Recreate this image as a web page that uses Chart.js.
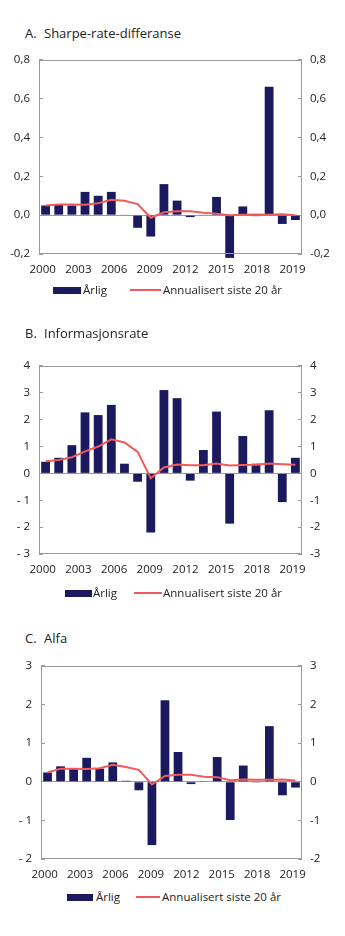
<!DOCTYPE html>
<html>
<head>
<meta charset="utf-8">
<script src="https://cdn.jsdelivr.net/npm/chart.js@4/dist/chart.umd.min.js"></script>
<style>
  body { margin: 0; background: #fff; font-family: "Open Sans", sans-serif; color: #222; }
  #page { position: relative; width: 345px; height: 936px; overflow: hidden; }
  .title { position: absolute; left: 25px; font-size: 13px; line-height: 18px; white-space: nowrap; }
  .title span { display: inline-block; width: 19px; }
  .wrap { position: absolute; left: 0; width: 345px; }
  .legend { position: absolute; left: 0; width: 345px; height: 16px; font-size: 11.5px; line-height: 16px; }
  .legend div { position: absolute; white-space: nowrap; }
  .swatch-bar { top: 5px; height: 7px; background: #1b1a5e; }
  .swatch-line { top: 7px; height: 2px; background: #f05a5a; }
</style>
</head>
<body>
<div id="page"></div>
<script>
// categories
const years = ['2000', '2001', '2002', '2003', '2004', '2005', '2006', '2007', '2008', '2009',
               '2010', '2011', '2012', '2013', '2014', '2015', '2016', '2017', '2018', '2019'];
const xTickLabels = ['2000', '2003', '2006', '2009', '2012', '2015', '2018', '2019'];

// A. Sharpe-rate-differanse
const sharpeAnnual = [0.05, 0.055, 0.05, 0.12, 0.10, 0.12, 0.003, -0.065, -0.11, 0.16,
                      0.075, -0.01, 0.002, 0.094, -0.22, 0.045, -0.005, 0.662, -0.045, -0.025];
const sharpe20 = [0.05, 0.055, 0.055, 0.054, 0.062, 0.079, 0.074, 0.057, -0.013, 0.015,
                  0.02, 0.02, 0.013, 0.008, 0.0, 0.002, 0.003, 0.002, 0.005, 0.0];

// B. Informasjonsrate
const infoAnnual = [0.43, 0.58, 1.05, 2.27, 2.17, 2.55, 0.36, -0.31, -2.2, 3.1,
                    2.8, -0.27, 0.87, 2.3, -1.87, 1.39, 0.36, 2.35, -1.07, 0.58];
const info20 = [0.45, 0.5, 0.6, 0.82, 1.0, 1.27, 1.15, 0.8, -0.18, 0.22,
                0.33, 0.3, 0.3, 0.37, 0.29, 0.31, 0.32, 0.37, 0.34, 0.32];

// C. Alfa
const alphaAnnual = [0.24, 0.40, 0.33, 0.62, 0.34, 0.50, 0.025, -0.22, -1.64, 2.11,
                     0.77, -0.06, 0.01, 0.64, -0.99, 0.42, -0.02, 1.44, -0.35, -0.15];
const alpha20 = [0.24, 0.34, 0.34, 0.33, 0.35, 0.44, 0.38, 0.31, -0.07, 0.15,
                 0.18, 0.18, 0.13, 0.12, 0.04, 0.06, 0.05, 0.05, 0.06, 0.03];

const seriesNames = ['Årlig', 'Annualisert siste 20 år'];

const NAVY = '#1b1a5e';
const RED = '#f05a5a';
const GREY = '#9a9a9a';
const FONT = { family: '"Open Sans", sans-serif', size: 11.5 };

const panels = [
  { letter: 'A.', title: 'Sharpe-rate-differanse', bars: sharpeAnnual, line: sharpe20,
    min: -0.2, max: 0.8, step: 0.2, dec: 1, leftSpace: false,
    titleY: 24, plotTop: 55, plotBottom: 254, plotLeft: 39, legendY: 282,
    leg: [53, 28, 83, 130, 31, 163] },
  { letter: 'B.', title: 'Informasjonsrate', bars: infoAnnual, line: info20,
    min: -3, max: 4, step: 1, dec: 0, leftSpace: true,
    titleY: 324, plotTop: 361, plotBottom: 554, plotLeft: 39, legendY: 585,
    leg: [65, 27, 93, 134, 28, 163] },
  { letter: 'C.', title: 'Alfa', bars: alphaAnnual, line: alpha20,
    min: -2, max: 3, step: 1, dec: 0, leftSpace: true,
    titleY: 629, plotTop: 661, plotBottom: 859, plotLeft: 41, legendY: 889,
    leg: [67, 26, 96, 136, 24, 162] }
];

// grey frame round the plot area
const framePlugin = {
  id: 'frame',
  afterDraw(chart) {
    const a = chart.chartArea, c = chart.ctx;
    c.save();
    c.strokeStyle = GREY;
    c.lineWidth = 1;
    c.strokeRect(Math.round(a.left) + 0.5, Math.round(a.top) + 0.5,
                 Math.round(a.right - a.left) - 1, Math.round(a.bottom - a.top) - 1);
    c.restore();
  }
};

function fmt(v, dec, space) {
  const s = Math.abs(v).toFixed(dec).replace('.', ',');
  if (v < -1e-9) return (space ? '- ' : '-') + s;
  return s;
}

const page = document.getElementById('page');

panels.forEach(p => {
  const t = document.createElement('div');
  t.className = 'title';
  t.style.top = p.titleY + 'px';
  t.innerHTML = '<span>' + p.letter + '</span>' + p.title;
  page.appendChild(t);

  const top = p.plotTop - 15;
  const h = p.plotBottom - p.plotTop + 15 + 30;
  const wrap = document.createElement('div');
  wrap.className = 'wrap';
  wrap.style.top = top + 'px';
  wrap.style.height = h + 'px';
  const cv = document.createElement('canvas');
  cv.width = 345; cv.height = h;
  wrap.appendChild(cv);
  page.appendChild(wrap);

  const lg = document.createElement('div');
  lg.className = 'legend';
  lg.style.top = p.legendY + 'px';
  lg.innerHTML =
    '<div class="swatch-bar" style="left:' + p.leg[0] + 'px;width:' + p.leg[1] + 'px"></div>' +
    '<div style="left:' + p.leg[2] + 'px">' + seriesNames[0] + '</div>' +
    '<div class="swatch-line" style="left:' + p.leg[3] + 'px;width:' + p.leg[4] + 'px"></div>' +
    '<div style="left:' + p.leg[5] + 'px">' + seriesNames[1] + '</div>';
  page.appendChild(lg);

  // label positions spread evenly over the axis
  const n = xTickLabels.length;
  const labelPos = xTickLabels.map((_, i) => -0.22 + i * (years.length - 1) / (n - 1));

  new Chart(cv, {
    data: {
      labels: years,
      datasets: [
        { type: 'line', label: seriesNames[1], data: p.line, borderColor: RED,
          borderWidth: 2, pointRadius: 0, tension: 0, yAxisID: 'y', order: 0 },
        { type: 'bar', label: seriesNames[0], data: p.bars, backgroundColor: NAVY,
          borderWidth: 0, barPercentage: 0.67, categoryPercentage: 1, yAxisID: 'y', order: 1,
          clip: false }
      ]
    },
    options: {
      responsive: false,
      animation: false,
      layout: { padding: { top: 15, bottom: 0, left: 0, right: 0 } },
      plugins: { legend: { display: false }, tooltip: { enabled: false } },
      scales: {
        x: { type: 'category', display: false, offset: true },
        xl: {
          type: 'linear', position: 'bottom', min: -0.5, max: years.length - 0.5,
          afterBuildTicks: a => { a.ticks = labelPos.map(v => ({ value: v })); },
          afterFit: a => { a.height = 30; },
          grid: { display: false, drawTicks: false },
          border: { display: false },
          ticks: { autoSkip: false, maxRotation: 0, padding: 9, color: '#222', font: FONT,
                   callback: (v, i) => xTickLabels[i] }
        },
        y: {
          type: 'linear', position: 'left', min: p.min, max: p.max,
          afterFit: a => { a.width = p.plotLeft; },
          grid: {
            color: c => (c.tick && Math.abs(c.tick.value) < 1e-9) ? GREY : 'rgba(0,0,0,0)',
            tickColor: GREY, tickLength: -4, lineWidth: 1
          },
          border: { display: false },
          ticks: { stepSize: p.step, padding: 13, color: '#222', font: FONT,
                   callback: v => fmt(v, p.dec, p.leftSpace) }
        },
        y2: {
          type: 'linear', position: 'right', min: p.min, max: p.max,
          afterFit: a => { a.width = 43; },
          grid: { drawOnChartArea: false, tickColor: GREY, tickLength: -4 },
          border: { display: false },
          ticks: { stepSize: p.step, padding: 12, color: '#222', font: FONT,
                   callback: v => fmt(v, p.dec, false) }
        }
      }
    },
    plugins: [framePlugin]
  });
});
</script>
</body>
</html>
